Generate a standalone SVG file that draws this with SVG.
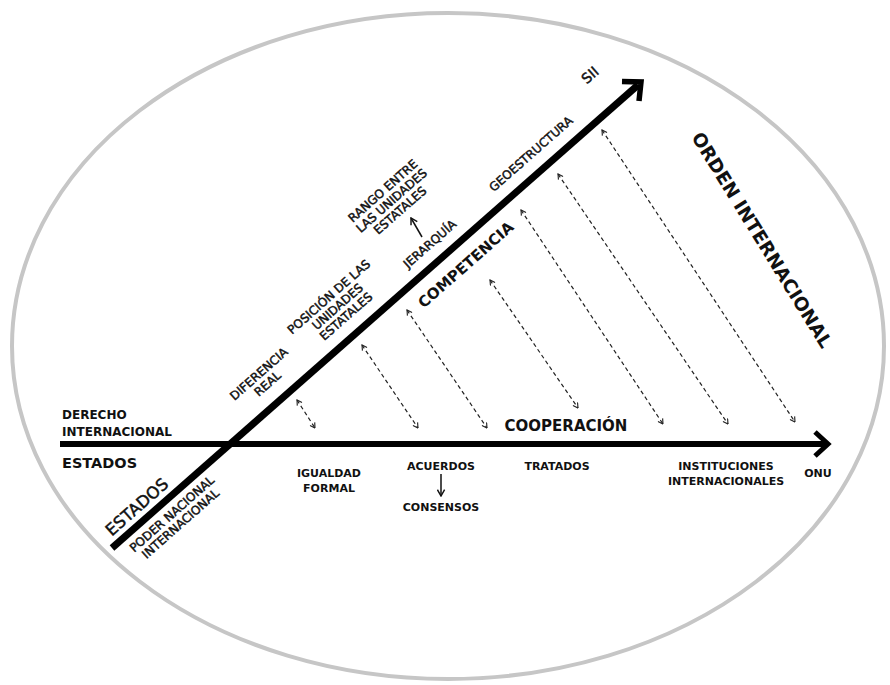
<svg xmlns="http://www.w3.org/2000/svg" width="890" height="685" viewBox="0 0 890 685">
  <defs>
    <style>
      text { font-family: "DejaVu Sans", "Liberation Sans", sans-serif; font-weight: bold; fill: #111; }
      .lbl { font-size: 11px; text-anchor: middle; dominant-baseline: central; }
      .rot { font-size: 12px; font-weight: normal; stroke: #111; stroke-width: 0.45; text-anchor: middle; dominant-baseline: central; }
      .big { font-size: 15px; }
      .axis { stroke: #000; fill: none; }
      .dash { stroke: #222; stroke-width: 1.2; stroke-dasharray: 4 3; fill: none; marker-start: url(#tip); marker-end: url(#tip); }
      .thin { stroke: #111; stroke-width: 1.5; fill: none; marker-end: url(#tipSolid); }
    </style>
    <marker id="tip" viewBox="0 0 10 10" refX="9" refY="5" markerWidth="7" markerHeight="7" markerUnits="userSpaceOnUse" orient="auto-start-reverse">
      <path d="M2,1 L9,5 L2,9" fill="none" stroke="#222" stroke-width="1.6"/>
    </marker>
    <marker id="tipSolid" viewBox="0 0 10 10" refX="9" refY="5" markerWidth="9" markerHeight="9" markerUnits="userSpaceOnUse" orient="auto">
      <path d="M2,1 L9,5 L2,9" fill="none" stroke="#111" stroke-width="1.6"/>
    </marker>
  </defs>

  <rect width="890" height="685" fill="#fff"/>

  <!-- outer frame -->
  <ellipse id="frame" cx="448" cy="346" rx="436" ry="333" fill="none" stroke="#c6c6c6" stroke-width="4"/>

  <g id="connectors">
    <!-- horizontal axis: cooperation -->
    <line class="axis" x1="60" y1="444" x2="826" y2="444" stroke-width="6"/>
    <polyline class="axis" points="815,432 828,444 815,456" stroke-width="5"/>
    <!-- diagonal axis: competition -->
    <line class="axis" x1="112" y1="548" x2="638" y2="85" stroke-width="7"/>
    <polyline class="axis" points="622,81.5 641,82 639,101" stroke-width="5.5"/>

    <!-- dashed links between both axes -->
    <line class="dash" x1="297" y1="400" x2="315" y2="428"/>
    <line class="dash" x1="362" y1="345" x2="418" y2="428"/>
    <line class="dash" x1="407" y1="310" x2="487" y2="428"/>
    <line class="dash" x1="490" y1="280" x2="578" y2="408"/>
    <line class="dash" x1="521" y1="210" x2="663" y2="424"/>
    <line class="dash" x1="558" y1="174" x2="728" y2="424"/>
    <line class="dash" x1="602" y1="130" x2="795" y2="422"/>

    <!-- small solid arrows -->
    <line class="thin" x1="422" y1="237" x2="411" y2="218"/>
    <line class="thin" x1="441" y1="474" x2="441" y2="496"/>
  </g>

  <!-- horizontal axis labels -->
  <g id="derecho-internacional">
    <text x="62" y="419" font-size="12">DERECHO</text>
    <text x="62" y="436" font-size="12">INTERNACIONAL</text>
  </g>
  <g id="estados-h"><text x="62" y="468" font-size="14.5">ESTADOS</text></g>
  <g id="cooperacion"><text x="566" y="431" class="big" text-anchor="middle">COOPERACIÓN</text></g>
  <g id="igualdad"><text class="lbl" x="329" y="473">IGUALDAD<tspan x="329" dy="15">FORMAL</tspan></text></g>
  <g id="acuerdos"><text class="lbl" x="441" y="466">ACUERDOS</text></g>
  <g id="consensos"><text class="lbl" x="441" y="507">CONSENSOS</text></g>
  <g id="tratados"><text class="lbl" x="557" y="466">TRATADOS</text></g>
  <g id="instituciones"><text class="lbl" x="726" y="466">INSTITUCIONES<tspan x="726" dy="15">INTERNACIONALES</tspan></text></g>
  <g id="onu"><text class="lbl" x="818" y="473">ONU</text></g>

  <!-- diagonal axis labels -->
  <g id="estados-d" transform="translate(137,507) rotate(-41.4)"><text class="rot" style="font-size:16.5px">ESTADOS</text></g>
  <g id="poder-nacional" transform="translate(172,514) rotate(-41.4)"><text class="rot">PODER NACIONAL<tspan x="0" dy="13">INTERNACIONAL</tspan></text></g>
  <g id="diferencia" transform="translate(259,374) rotate(-41.4)"><text class="rot">DIFERENCIA<tspan x="0" dy="13">REAL</tspan></text></g>
  <g id="posicion" transform="translate(329,297) rotate(-41.4)"><text class="rot">POSICIÓN DE LAS<tspan x="0" dy="13">UNIDADES</tspan><tspan x="0" dy="13">ESTATALES</tspan></text></g>
  <g id="rango" transform="translate(383,191) rotate(-41.4)"><text class="rot">RANGO ENTRE<tspan x="0" dy="13">LAS UNIDADES</tspan><tspan x="0" dy="13">ESTATALES</tspan></text></g>
  <g id="jerarquia" transform="translate(430,244) rotate(-41.4)"><text class="rot">JERARQUÍA</text></g>
  <g id="competencia" transform="translate(466,265) rotate(-41.4)"><text class="big" text-anchor="middle" dominant-baseline="central">COMPETENCIA</text></g>
  <g id="geoestructura" transform="translate(531,154) rotate(-41.4)"><text class="rot">GEOESTRUCTURA</text></g>
  <g id="sii" transform="translate(590,75) rotate(-41.4)"><text class="rot" style="font-size:14px">SII</text></g>

  <!-- title -->
  <g id="orden" transform="translate(762,240) rotate(58.3)"><text text-anchor="middle" dominant-baseline="central" font-size="18.5">ORDEN INTERNACIONAL</text></g>
</svg>
